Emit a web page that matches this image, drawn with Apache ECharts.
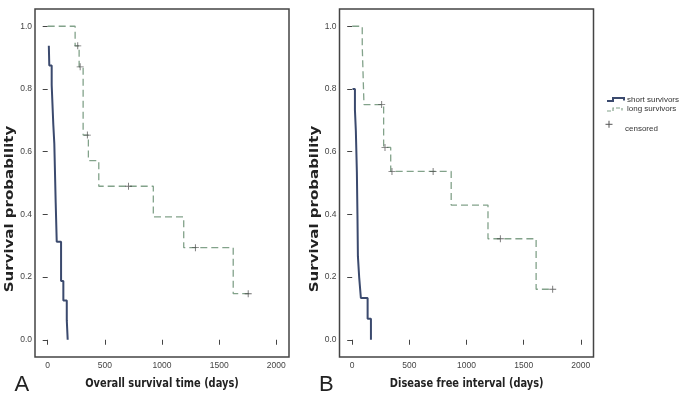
<!DOCTYPE html>
<html>
<head>
<meta charset="utf-8">
<script src="https://cdn.jsdelivr.net/npm/echarts@6/dist/echarts.min.js"></script>
<style>
html,body{margin:0;padding:0;background:#fff;}
#c{width:685px;height:400px;}
</style>
</head>
<body>
<div id="c"></div>
<script>
// ---- data ----
const tickDays = [0, 500, 1000, 1500, 2000];
const tickProb = [0, 0.2, 0.4, 0.6, 0.8, 1.0];

const osShortDays = [10, 14, 35, 49, 58, 70, 79, 117, 137, 167, 175];
const osShortSurv = [0.9375, 0.875, 0.8125, 0.6875, 0.625, 0.4375, 0.3125, 0.1875, 0.125, 0.0625, 0];
const osLongDays = [0, 240, 275, 310, 356, 447, 924, 1190, 1623, 1760];
const osLongSurv = [1, 0.9375, 0.8705, 0.6529, 0.5713, 0.4897, 0.3918, 0.2938, 0.1469, 0.1469];
const osCensDays = [263, 284, 347, 707, 1292, 1754];
const osCensSurv = [0.9375, 0.8705, 0.6529, 0.4897, 0.2938, 0.1469];

const dfiShortDays = [3, 24, 32, 41, 46, 50, 61, 76, 135, 164];
const dfiShortSurv = [0.8, 0.7333, 0.6667, 0.5333, 0.4, 0.2667, 0.2, 0.1333, 0.0667, 0];
const dfiLongDays = [0, 88, 103, 275, 337, 866, 1188, 1609, 1758];
const dfiLongSurv = [1, 0.9375, 0.75, 0.6136, 0.5369, 0.4295, 0.3222, 0.1611, 0.1611];
const dfiCensDays = [258, 287, 348, 708, 1296, 1754];
const dfiCensSurv = [0.75, 0.6136, 0.5369, 0.5369, 0.3222, 0.1611];

const legendLabels = ['short survivors', 'long survivors', 'censored'];
const xTitles = ['Overall survival time (days)', 'Disease free interval (days)'];
const yTitle = 'Survival probability';
const panelLabels = ['A', 'B'];

// ---- styling ----
const SOLID = '#3b4a6e';
const DASH = '#82a28a';
const CENS = '#4a4a4a';
const FRAME = '#444';
const plusPath = 'path://M0,3.5h8v1h-8zM3.5,0h1v8h-1z';

const zip = (a, b) => a.map((v, i) => [v, b[i]]);

function xAxis(gi) {
  return {
    type: 'value', gridIndex: gi, min: -111, max: 2111,
    axisLine: { show: false },
    axisTick: { show: true, customValues: tickDays, length: 5, lineStyle: { color: FRAME, width: 1 } },
    axisLabel: { customValues: tickDays, fontSize: 8.5, color: '#444', margin: 4, fontFamily: 'Liberation Sans',
      formatter: v => String(v) },
    splitLine: { show: false }
  };
}
function yAxis(gi) {
  return {
    type: 'value', gridIndex: gi, min: -0.055, max: 1.055,
    axisLine: { show: false },
    axisTick: { show: true, customValues: tickProb, length: 5, lineStyle: { color: FRAME, width: 1 } },
    axisLabel: { customValues: tickProb, fontSize: 8.5, color: '#444', margin: 3, fontFamily: 'Liberation Sans',
      formatter: v => v.toFixed(1) },
    splitLine: { show: false }
  };
}
function stepLine(gi, days, surv, dashed) {
  return {
    type: 'line', xAxisIndex: gi, yAxisIndex: gi, step: 'end', symbol: 'none', silent: true,
    data: zip(days, surv),
    lineStyle: dashed ? { color: DASH, width: 1.3, type: [7, 4] } : { color: SOLID, width: 2 },
    z: dashed ? 2 : 3
  };
}
function cens(gi, days, surv) {
  return {
    type: 'scatter', xAxisIndex: gi, yAxisIndex: gi, symbol: plusPath, symbolSize: 7,
    itemStyle: { color: CENS }, data: zip(days, surv), z: 4, silent: true
  };
}

const chart = echarts.init(document.getElementById('c'), null, { renderer: 'canvas' });
chart.setOption({
  animation: false,
  backgroundColor: '#fff',
  grid: [
    { left: 35, top: 9, width: 254, height: 348, show: true, borderColor: FRAME, borderWidth: 1.5, backgroundColor: 'transparent' },
    { left: 339.5, top: 9, width: 254, height: 348, show: true, borderColor: FRAME, borderWidth: 1.5, backgroundColor: 'transparent' }
  ],
  xAxis: [xAxis(0), xAxis(1)],
  yAxis: [yAxis(0), yAxis(1)],
  series: [
    stepLine(0, osLongDays, osLongSurv, true),
    stepLine(0, osShortDays, osShortSurv, false),
    cens(0, osCensDays, osCensSurv),
    stepLine(1, dfiLongDays, dfiLongSurv, true),
    stepLine(1, dfiShortDays, dfiShortSurv, false),
    cens(1, dfiCensDays, dfiCensSurv)
  ],
  graphic: [
    // y titles
    { type: 'text', x: 10, y: 209, rotation: Math.PI / 2, scaleY: 0.8,
      style: { text: yTitle, font: 'bold 15px "DejaVu Sans"', fill: '#222', align: 'center', verticalAlign: 'middle', textAlign: 'center', textVerticalAlign: 'middle' } },
    { type: 'text', x: 315, y: 209, rotation: Math.PI / 2, scaleY: 0.8,
      style: { text: yTitle, font: 'bold 15px "DejaVu Sans"', fill: '#222', align: 'center', verticalAlign: 'middle', textAlign: 'center', textVerticalAlign: 'middle' } },
    // x titles
    { type: 'text', x: 162, y: 384, scaleX: 0.82,
      style: { text: xTitles[0], font: 'bold 12px "DejaVu Sans"', fill: '#222', align: 'center', verticalAlign: 'middle', textAlign: 'center', textVerticalAlign: 'middle' } },
    { type: 'text', x: 466.7, y: 384, scaleX: 0.82,
      style: { text: xTitles[1], font: 'bold 12px "DejaVu Sans"', fill: '#222', align: 'center', verticalAlign: 'middle', textAlign: 'center', textVerticalAlign: 'middle' } },
    // panel letters
    { type: 'text', x: 14.5, y: 385,
      style: { text: panelLabels[0], font: '22px "Liberation Sans"', fill: '#222', align: 'left', verticalAlign: 'middle', textAlign: 'left', textVerticalAlign: 'middle' } },
    { type: 'text', x: 319, y: 385,
      style: { text: panelLabels[1], font: '22px "Liberation Sans"', fill: '#222', align: 'left', verticalAlign: 'middle', textAlign: 'left', textVerticalAlign: 'middle' } },
    // legend
    { type: 'polyline', shape: { points: [[607, 101], [613, 101], [613, 98], [624, 98], [624, 100.5]] },
      style: { stroke: SOLID, lineWidth: 2, fill: null } },
    { type: 'text', x: 627, y: 100,
      style: { text: legendLabels[0], font: '8px "Liberation Sans"', fill: '#333', align: 'left', verticalAlign: 'middle', textAlign: 'left', textVerticalAlign: 'middle' } },
    { type: 'polyline', shape: { points: [[607, 111], [613, 111], [613, 108], [622, 108], [622, 110.5]] },
      style: { stroke: DASH, lineWidth: 1.2, fill: null, lineDash: [4, 2] } },
    { type: 'text', x: 627, y: 109,
      style: { text: legendLabels[1], font: '8px "Liberation Sans"', fill: '#333', align: 'left', verticalAlign: 'middle', textAlign: 'left', textVerticalAlign: 'middle' } },
    { type: 'rect', shape: { x: 605.5, y: 123.8, width: 7, height: 1 }, style: { fill: '#555' } },
    { type: 'rect', shape: { x: 608.5, y: 120.8, width: 1, height: 7 }, style: { fill: '#555' } },
    { type: 'text', x: 625, y: 128.3,
      style: { text: legendLabels[2], font: '8px "Liberation Sans"', fill: '#333', align: 'left', verticalAlign: 'middle', textAlign: 'left', textVerticalAlign: 'middle' } }
  ]
});
</script>
</body>
</html>
